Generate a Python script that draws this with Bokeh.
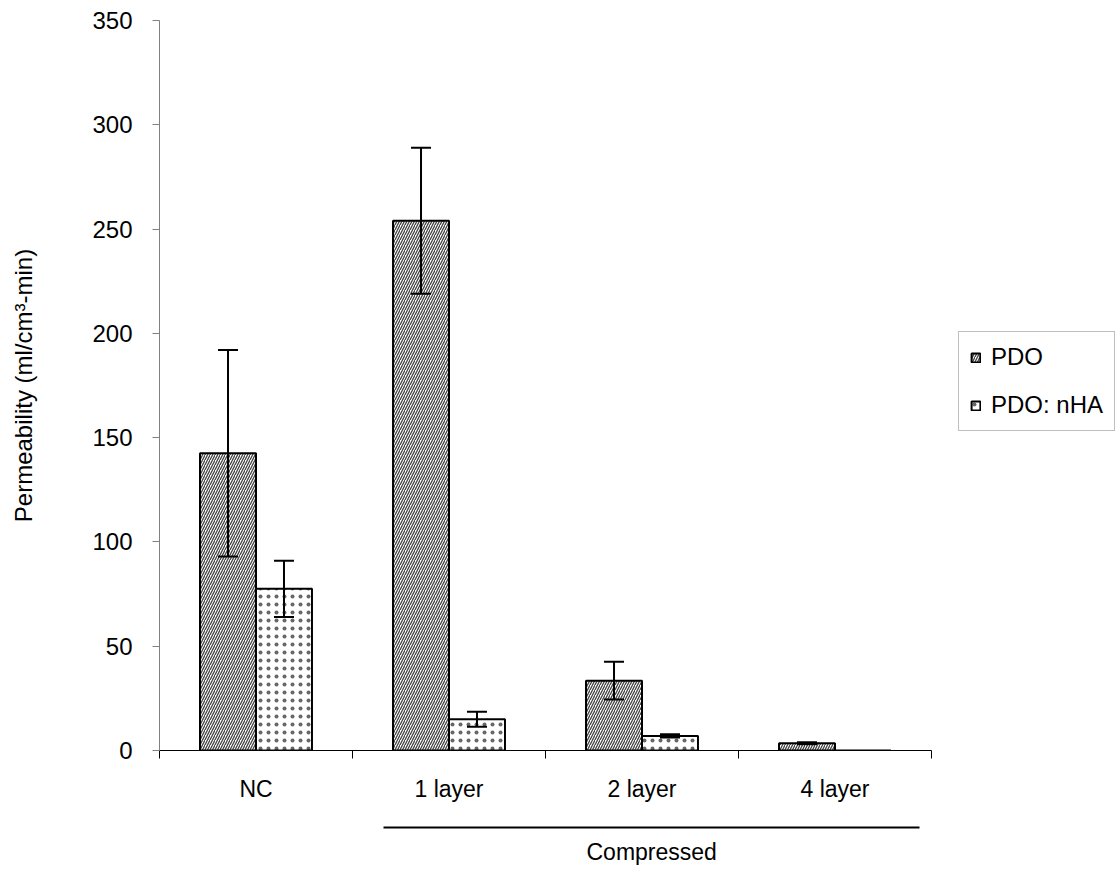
from bokeh.plotting import figure
from bokeh.models import (Range1d, LinearAxis, FixedTicker, Whisker, Title,
                          TeeHead, ColumnDataSource, Legend, LegendItem)
from bokeh.embed import file_html
from bokeh.resources import INLINE

# ---- data ----
categories = ["NC", "1 layer", "2 layer", "4 layer"]
series_names = ["PDO", "PDO: nHA"]
pdo_values = [142.5, 254.0, 33.5, 3.5]
pdo_errors = [49.5, 35.0, 9.0, 0.5]
nha_values = [77.5, 15.0, 7.0, 0.0]
nha_errors = [13.5, 3.6, 0.8, 0.0]
group_label = "Compressed"
group_members = ["1 layer", "2 layer", "4 layer"]
y_ticks = [0, 50, 100, 150, 200, 250, 300, 350]
y_label = "Permeability (ml/cm\u00b3-min)"

FONT = "Liberation Sans"
bw = 0.29     # bar width (in category units)
off = 0.145   # dodge of each series from the category centre

n = len(categories)
centers = [i + 0.5 for i in range(n)]

src = ColumnDataSource(dict(
    x_pdo=[c - off for c in centers],
    x_nha=[c + off for c in centers],
    pdo=pdo_values,
    pdo_lo=[v - e for v, e in zip(pdo_values, pdo_errors)],
    pdo_hi=[v + e for v, e in zip(pdo_values, pdo_errors)],
    nha=nha_values,
))
keep = [i for i, e in enumerate(nha_errors) if e > 0]
src_nha_err = ColumnDataSource(dict(
    x=[centers[i] + off for i in keep],
    lo=[nha_values[i] - nha_errors[i] for i in keep],
    hi=[nha_values[i] + nha_errors[i] for i in keep],
))

p = figure(x_range=Range1d(0, n), y_range=Range1d(0, 350),
           frame_width=772, frame_height=730,
           min_border_left=159, min_border_right=188, min_border_top=20, min_border_bottom=121,
           x_axis_type=None, output_backend="svg", toolbar_location=None)
p.xgrid.visible = False
p.ygrid.visible = False
p.outline_line_color = None
p.background_fill_color = "white"
p.border_fill_color = "white"

# y axis
ya = p.yaxis[0]
ya.ticker = FixedTicker(ticks=y_ticks, minor_ticks=[])
ya.major_tick_out = 7
ya.major_tick_in = 0
ya.axis_line_color = "#808080"
ya.major_tick_line_color = "#808080"
ya.major_label_text_font = FONT
ya.major_label_text_font_size = "24px"
ya.major_label_text_color = "black"
ya.major_label_standoff = 20
ya.axis_label = y_label
ya.axis_label_text_font = FONT
ya.axis_label_text_font_size = "24px"
ya.axis_label_text_font_style = "normal"
ya.axis_label_text_color = "black"
ya.axis_label_standoff = 52

# x axis: boundary ticks + category labels
ax1 = LinearAxis(ticker=FixedTicker(ticks=centers, minor_ticks=list(range(n + 1))),
                 major_label_overrides={c: cat for c, cat in zip(centers, categories)},
                 major_tick_out=0, major_tick_in=0, minor_tick_out=8, minor_tick_in=0,
                 axis_line_color="black", minor_tick_line_color="black",
                 major_label_standoff=17, major_label_text_font=FONT,
                 major_label_text_font_size="23px", major_label_text_color="black",
                 axis_label=" ", axis_label_text_font_size="10px", axis_label_standoff=9)
p.add_layout(ax1, "below")

gi = [categories.index(c) for c in group_members]
ax2 = LinearAxis(bounds=(min(gi) + 0.16, max(gi) + 0.94),
                 ticker=FixedTicker(ticks=[], minor_ticks=[]),
                 major_tick_out=0, minor_tick_out=0, major_label_text_font_size="0px",
                 axis_line_width=2, axis_line_color="black")
p.add_layout(ax2, "below")

p.add_layout(Title(text=group_label, align="left", offset=427, standoff=18,
                   text_font=FONT, text_font_size="23px", text_font_style="normal",
                   text_color="black"), "below")

r1 = p.vbar(x="x_pdo", top="pdo", width=bw, source=src,
            fill_color="white", hatch_pattern="/", hatch_color="#444444",
            hatch_scale=5, hatch_weight=1.3, line_color="black", line_width=2)
r2 = p.vbar(x="x_nha", top="nha", width=bw, source=src,
            fill_color="white", hatch_pattern=".", hatch_color="#666666",
            hatch_scale=8, hatch_weight=1.0, line_color="black", line_width=2)

for base, lo, hi, s in [("x_pdo", "pdo_lo", "pdo_hi", src),
                        ("x", "lo", "hi", src_nha_err)]:
    w = Whisker(source=s, base=base, lower=lo, upper=hi, dimension="height",
                line_color="black", line_width=2, level="overlay",
                upper_head=TeeHead(size=20, line_width=2, line_color="black"),
                lower_head=TeeHead(size=20, line_width=2, line_color="black"))
    p.add_layout(w)

legend = Legend(items=[LegendItem(label=series_names[0], renderers=[r1]),
                       LegendItem(label=series_names[1], renderers=[r2])],
                location=(27, 319), orientation="vertical",
                glyph_width=11, glyph_height=11, label_height=25, label_standoff=10,
                spacing=20, padding=11, margin=0,
                label_text_font=FONT, label_text_font_size="24px",
                label_text_color="black",
                border_line_color="#808080", border_line_width=1,
                background_fill_color="white", background_fill_alpha=1)
p.add_layout(legend, "right")

open("out.html", "w").write(file_html(p, INLINE))
